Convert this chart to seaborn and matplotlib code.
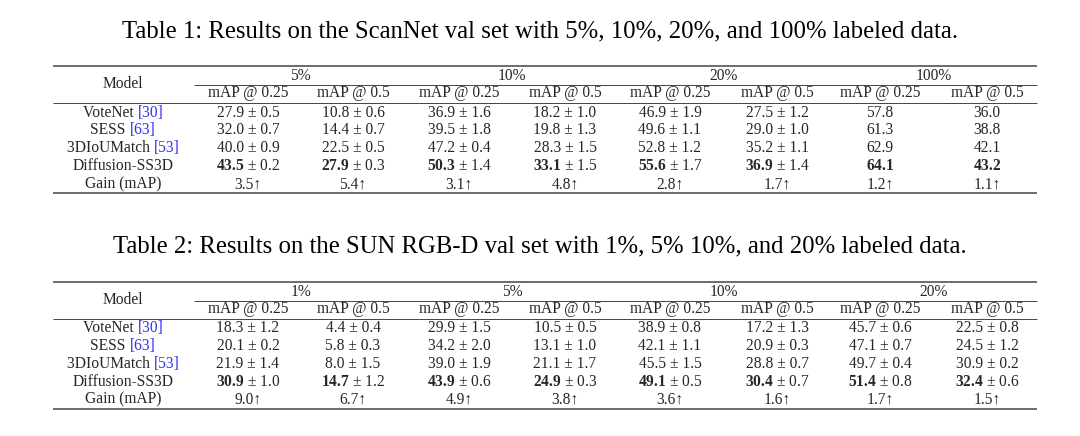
import matplotlib
matplotlib.use("Agg")
import matplotlib.pyplot as plt
import seaborn as sns

sns.set_theme(style="white")
plt.rcParams['font.family'] = ['Liberation Serif', 'DejaVu Serif']
plt.rcParams['mathtext.fontset'] = 'custom'
plt.rcParams['mathtext.rm'] = 'Liberation Serif'
plt.rcParams['mathtext.bf'] = 'Liberation Serif:bold'

# ---------------- data ----------------
models = ["VoteNet", "SESS", "3DIoUMatch", "Diffusion-SS3D", "Gain (mAP)"]
citations = ["[30]", "[63]", "[53]", "", ""]
metrics = ["mAP @ 0.25", "mAP @ 0.5"]

t1_title = "Table 1: Results on the ScanNet val set with 5%, 10%, 20%, and 100% labeled data."
t1_groups = ["5%", "10%", "20%", "100%"]
t1_mean = [
    [27.9, 10.8, 36.9, 18.2, 46.9, 27.5, 57.8, 36.0],
    [32.0, 14.4, 39.5, 19.8, 49.6, 29.0, 61.3, 38.8],
    [40.0, 22.5, 47.2, 28.3, 52.8, 35.2, 62.9, 42.1],
    [43.5, 27.9, 50.3, 33.1, 55.6, 36.9, 64.1, 43.2],
]
t1_std = [
    [0.5, 0.6, 1.6, 1.0, 1.9, 1.2, None, None],
    [0.7, 0.7, 1.8, 1.3, 1.1, 1.0, None, None],
    [0.9, 0.5, 0.4, 1.5, 1.2, 1.1, None, None],
    [0.2, 0.3, 1.4, 1.5, 1.7, 1.4, None, None],
]
t1_gain = [3.5, 5.4, 3.1, 4.8, 2.8, 1.7, 1.2, 1.1]

t2_title = "Table 2: Results on the SUN RGB-D val set with 1%, 5% 10%, and 20% labeled data."
t2_groups = ["1%", "5%", "10%", "20%"]
t2_mean = [
    [18.3, 4.4, 29.9, 10.5, 38.9, 17.2, 45.7, 22.5],
    [20.1, 5.8, 34.2, 13.1, 42.1, 20.9, 47.1, 24.5],
    [21.9, 8.0, 39.0, 21.1, 45.5, 28.8, 49.7, 30.9],
    [30.9, 14.7, 43.9, 24.9, 49.1, 30.4, 51.4, 32.4],
]
t2_std = [
    [1.2, 0.4, 1.5, 0.5, 0.8, 1.3, 0.6, 0.8],
    [0.2, 0.3, 2.0, 1.0, 1.1, 0.3, 0.7, 1.2],
    [1.4, 1.5, 1.9, 1.7, 1.5, 0.7, 0.4, 0.2],
    [1.0, 1.2, 0.6, 0.3, 0.5, 0.7, 0.8, 0.6],
]
t2_gain = [9.0, 6.7, 4.9, 3.8, 3.6, 1.6, 1.7, 1.5]

# ---------------- layout ----------------
W, H = 1080, 436
fig = plt.figure(figsize=(W / 100, H / 100), dpi=100)
ax = fig.add_axes([0, 0, 1, 1])
ax.set_xlim(0, W)
ax.set_ylim(H, 0)
ax.axis("off")
renderer = fig.canvas.get_renderer()

X_LEFT, X_RIGHT = 53, 1037
X_MODEL = 123
X_CMID = 194
COLS = [248, 353, 459, 565, 670, 777, 880, 987]
FS = 11.2
TFS = 17.8
RULE_C = "#444444"
CITE_C = "#3030f0"


def px_width(t):
    bb = t.get_window_extent(renderer)
    return bb.width


def draw_table(y0, title, groups, means, stds, gains):
    ax.text(540, y0 + 37, title, ha="center", va="baseline", fontsize=TFS, color="black")
    ax.plot([X_LEFT, X_RIGHT], [y0 + 66, y0 + 66], color=RULE_C, lw=1.1, solid_capstyle="butt")
    ax.plot([X_CMID, X_RIGHT], [y0 + 85, y0 + 85], color=RULE_C, lw=0.7, solid_capstyle="butt")
    ax.plot([X_LEFT, X_RIGHT], [y0 + 103, y0 + 103], color=RULE_C, lw=0.7, solid_capstyle="butt")
    ax.plot([X_LEFT, X_RIGHT], [y0 + 193, y0 + 193], color=RULE_C, lw=1.1, solid_capstyle="butt")

    ax.text(X_MODEL, y0 + 88.5, "Model", ha="center", va="baseline", fontsize=FS)
    for g, name in enumerate(groups):
        xc = (COLS[2 * g] + COLS[2 * g + 1]) / 2
        ax.text(xc, y0 + 80, name, ha="center", va="baseline", fontsize=FS)
    for c, x in enumerate(COLS):
        ax.text(x, y0 + 97.3, metrics[c % 2], ha="center", va="baseline", fontsize=FS)

    row_base = [116.7, 134.2, 152.4, 170.2, 188.3]
    for r, (name, cite) in enumerate(zip(models, citations)):
        yb = y0 + row_base[r]
        if cite:
            t1 = ax.text(0, yb, name + " ", ha="left", va="baseline", fontsize=FS)
            t2 = ax.text(0, yb, cite, ha="left", va="baseline", fontsize=FS, color=CITE_C)
            w1, w2 = px_width(t1), px_width(t2)
            xs = X_MODEL - (w1 + w2) / 2
            t1.set_x(xs)
            t2.set_x(xs + w1)
        else:
            ax.text(X_MODEL, yb, name, ha="center", va="baseline", fontsize=FS)
        if r < len(means):
            bold = r == len(means) - 1
            for c, x in enumerate(COLS):
                m, s = means[r][c], stds[r][c]
                ms = f"{m:.1f}"
                if bold:
                    ms = r"$\mathbf{" + ms + "}$"
                txt = ms if s is None else f"{ms} ± {s:.1f}"
                ax.text(x, yb, txt, ha="center", va="baseline", fontsize=FS)
        else:
            for c, x in enumerate(COLS):
                ax.text(x, yb, f"{gains[c]:.1f}↑", ha="center", va="baseline", fontsize=FS)


draw_table(0, t1_title, t1_groups, t1_mean, t1_std, t1_gain)
draw_table(215.5, t2_title, t2_groups, t2_mean, t2_std, t2_gain)

fig.savefig("out.png", dpi=100, facecolor="white")
